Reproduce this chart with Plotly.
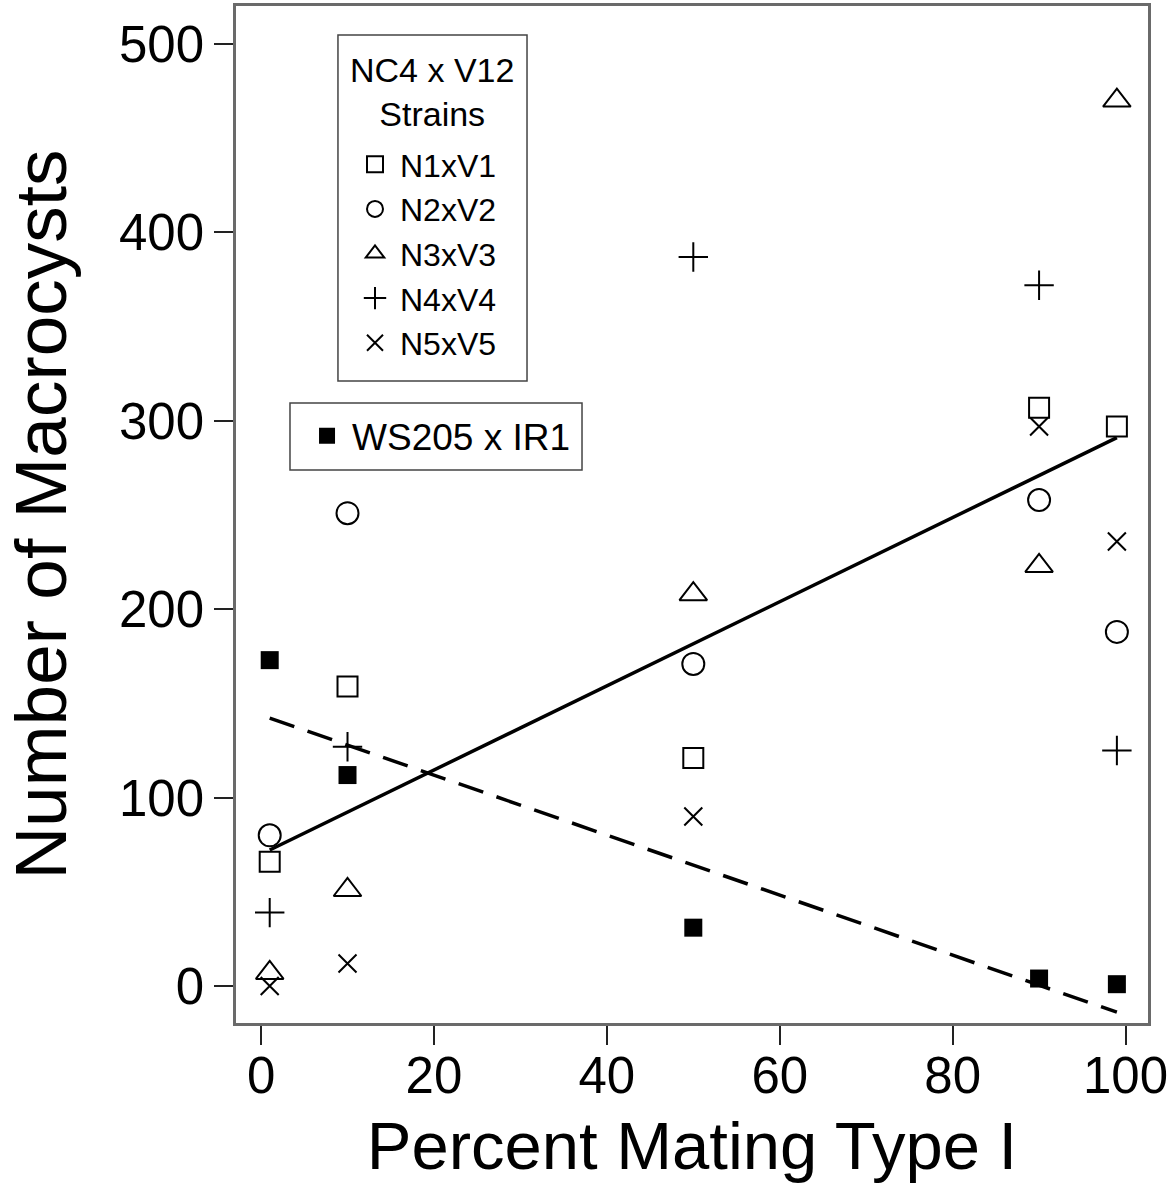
import numpy as np
import plotly.graph_objects as go

# ---- data ----
pct_type1 = [1, 10, 50, 90, 99]
n1xv1 = [66, 159, 121, 307, 297]
n2xv2 = [80, 251, 171, 258, 188]
n3xv3 = [7, 51, 208, 223, 470]
n4xv4 = [39, 127, 387, 372, 125]
n5xv5 = [0, 12, 90, 297, 236]
ws205_ir1 = [173, 112, 31, 4, 1]

x_ticks = [0, 20, 40, 60, 80, 100]
y_ticks = [0, 100, 200, 300, 400, 500]

FONT = "Liberation Sans, Arial, sans-serif"

fig = go.Figure()

series = [
    ("N1xV1", n1xv1, "square-open", 20),
    ("N2xV2", n2xv2, "circle-open", 22),
    ("N3xV3", n3xv3, "triangle-up-open", 24),
    ("N4xV4", n4xv4, "cross-thin-open", 21),
    ("N5xV5", n5xv5, "x-thin-open", 18),
]
for name, ys, sym, sz in series:
    fig.add_trace(go.Scatter(
        x=pct_type1, y=ys, mode="markers", name=name, legend="legend",
        marker=dict(symbol=sym, size=sz, color="black",
                    line=dict(color="black", width=2)),
    ))

fig.add_trace(go.Scatter(
    x=pct_type1, y=ws205_ir1, mode="markers", name="WS205 x IR1",
    legend="legend2",
    marker=dict(symbol="square", size=18, color="black",
                line=dict(color="black", width=0)),
))

# regression lines
all_x = np.repeat([pct_type1], 5, axis=0).ravel()
all_y = np.array([n1xv1, n2xv2, n3xv3, n4xv4, n5xv5]).ravel()
b1, a1 = np.polyfit(all_x, all_y, 1)
b2, a2 = np.polyfit(pct_type1, ws205_ir1, 1)
xl = np.array([min(pct_type1), max(pct_type1)])

fig.add_trace(go.Scatter(x=xl, y=a1 + b1 * xl, mode="lines", showlegend=False,
                         line=dict(color="black", width=3.5)))
fig.add_trace(go.Scatter(x=xl, y=a2 + b2 * xl, mode="lines", showlegend=False,
                         line=dict(color="black", width=3.5, dash="26px,14px")))

axis_common = dict(
    showgrid=False, zeroline=False, showline=True, mirror=True,
    linecolor="#6a6a6a", linewidth=2.5, automargin=False,
    ticks="outside", ticklen=19, tickwidth=2, tickcolor="#222",
    tickfont=dict(family=FONT, size=51, color="black"),
)

# legend boxes (paper coords of plot area)
box1 = dict(x0=0.1118, x1=0.3191, y0=0.6313, y1=0.9715)
box2 = dict(x0=0.0592, x1=0.3794, y0=0.5438, y1=0.6096)

fig.update_layout(
    width=1175, height=1194,
    margin=dict(l=236, r=27, t=6, b=171),
    paper_bgcolor="white", plot_bgcolor="white",
    font=dict(family=FONT, color="black"),
    xaxis=dict(range=[-2.9, 102.6], tickvals=x_ticks, ticklabelstandoff=-13,
               title=dict(text="Percent Mating Type I",
                          font=dict(family=FONT, size=67), standoff=20),
               **axis_common),
    yaxis=dict(range=[-19.6, 520.2], tickvals=y_ticks,
               title=dict(text="Number of Macrocysts",
                          font=dict(family=FONT, size=73), standoff=30),
               **axis_common),
    legend=dict(
        x=0.125, y=0.8712, xanchor="left", yanchor="top",
        borderwidth=0, bgcolor="rgba(0,0,0,0)",
        font=dict(family=FONT, size=32, color="black"),
        itemwidth=40, tracegroupgap=0,
    ),
    legend2=dict(
        x=0.0724, y=0.6075, xanchor="left", yanchor="top",
        borderwidth=0, bgcolor="rgba(0,0,0,0)",
        font=dict(family=FONT, size=37, color="black"),
        itemwidth=40,
    ),
    shapes=[
        dict(type="rect", xref="paper", yref="paper", line=dict(color="#444", width=1.5),
             fillcolor="rgba(0,0,0,0)", layer="below", **box1),
        dict(type="rect", xref="paper", yref="paper", line=dict(color="#444", width=1.5),
             fillcolor="rgba(0,0,0,0)", layer="below", **box2),
    ],
    annotations=[
        dict(text="NC4 x V12<br>Strains", xref="paper", yref="paper",
             x=(box1["x0"] + box1["x1"]) / 2, y=0.9154, xanchor="center",
             yanchor="middle", showarrow=False,
             font=dict(family=FONT, size=34, color="black")),
    ],
)

fig.write_html("out.html", config={"displayModeBar": False},
               post_script="document.body.style.margin='0px';")
